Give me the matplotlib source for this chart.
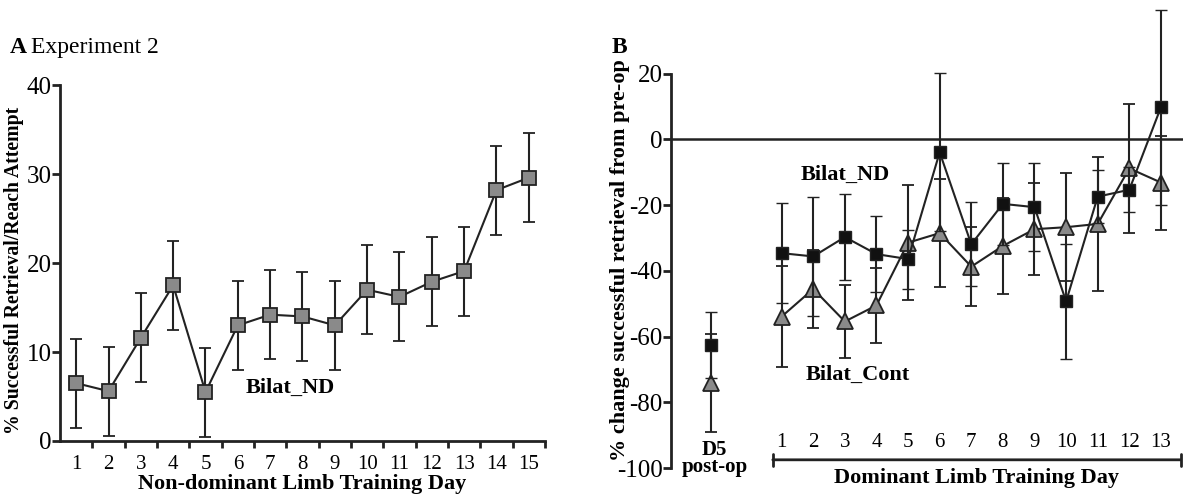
import matplotlib
matplotlib.use("Agg")
import matplotlib.pyplot as plt
from matplotlib.ticker import FixedLocator

plt.rcParams['font.family'] = ['Liberation Serif', 'DejaVu Serif']

# ---------------- Data ----------------
# Panel A: Experiment 2, non-dominant limb training
days_a = list(range(1, 16))
bilat_nd_a = [6.5, 5.6, 11.6, 17.5, 5.5, 13.0, 14.2, 14.0, 13.0, 17.0, 16.2, 17.9, 19.1, 28.2, 29.6]
err_a = [5.0, 5.0, 5.0, 5.0, 5.0, 5.0, 5.0, 5.0, 5.0, 5.0, 5.0, 5.0, 5.0, 5.0, 5.0]

# Panel B: % change from pre-op, dominant limb training
days_b = list(range(1, 14))
bilat_nd_b = [-34.6, -35.6, -29.7, -34.9, -36.4, -3.9, -31.9, -19.6, -20.6, -49.3, -17.4, -15.3, 9.8]
bilat_nd_b_err = [15.2, 18.2, 13.1, 11.6, 9.0, 24.0, 12.8, 12.4, 13.4, 17.4, 8.0, 6.8, 29.7]
bilat_cont_b = [-53.9, -45.5, -55.4, -50.5, -31.4, -28.5, -38.7, -32.4, -27.3, -26.7, -25.7, -8.8, -13.1]
bilat_cont_b_err = [15.3, 12.0, 11.0, 11.3, 17.5, 16.5, 12.1, 14.6, 14.0, 16.4, 20.3, 19.6, 14.3]

# D5 post-op point
d5_label = "D5\npost-op"
d5_nd, d5_nd_err = -62.5, 10.0
d5_cont, d5_cont_err = -74.1, 15.0

line_c = '#222222'

fig = plt.figure(figsize=(11.86, 4.98), dpi=100)

# ---------------- Panel A ----------------
axA = fig.add_axes([0.0506, 0.1145, 0.4089, 0.7145])
axA.errorbar(days_a, bilat_nd_a, yerr=err_a, color=line_c, lw=1.5, elinewidth=1.5,
             capsize=4.5, capthick=1.5, marker='s', markersize=10,
             markerfacecolor='#8a8a8a', markeredgecolor=line_c, markeredgewidth=1.3, zorder=3)
axA.set_xlim(0.5, 15.5)
axA.set_ylim(0, 40)
for s in ['top', 'right']:
    axA.spines[s].set_visible(False)
for s in ['left', 'bottom']:
    axA.spines[s].set_linewidth(2)
    axA.spines[s].set_color(line_c)
axA.set_yticks([0, 10, 20, 30, 40])
axA.set_xticks(days_a)
axA.xaxis.set_minor_locator(FixedLocator([d + 0.5 for d in days_a]))
axA.tick_params(axis='x', which='major', length=0, labelsize=15, pad=10)
axA.tick_params(axis='x', which='minor', length=5, width=2, direction='out', color=line_c)
axA.tick_params(axis='y', length=6, width=2, labelsize=18, pad=0, color=line_c)
axA.set_xlabel("Non-dominant Limb Training Day", fontsize=16, fontweight='bold', labelpad=0)
axA.set_ylabel("% Successful Retrieval/Reach Attempt", fontsize=14.2, fontweight='bold')
axA.yaxis.set_label_coords(-0.074, 0.48)
axA.text(7.62, 6.0, "Bilat_ND", fontsize=16, fontweight='bold', ha='center', va='center')
fig.text(0.008, 0.905, "A", fontsize=17, fontweight='bold', ha='left', va='center')
fig.text(0.026, 0.905, "Experiment 2", fontsize=17, ha='left', va='center')

# ---------------- Panel B ----------------
axB = fig.add_axes([0.5658, 0.0602, 0.4317, 0.9368])
axB.set_xlim(-2.5, 13.7)
axB.set_ylim(-100, 42)
axB.axhline(0, color=line_c, lw=1.8, zorder=1)
axB.errorbar(days_b, bilat_cont_b, yerr=bilat_cont_b_err, color=line_c, lw=1.5,
             elinewidth=1.5, capsize=4.5, capthick=1.5, marker='^', markersize=11,
             markerfacecolor='#8a8a8a', markeredgecolor=line_c, markeredgewidth=1.3, zorder=3)
axB.errorbar(days_b, bilat_nd_b, yerr=bilat_nd_b_err, color=line_c, lw=1.5,
             elinewidth=1.5, capsize=4.5, capthick=1.5, marker='s', markersize=9,
             markerfacecolor='#111111', markeredgecolor=line_c, markeredgewidth=1.0, zorder=4)
# D5 post-op values
axB.errorbar([-1.25], [d5_cont], yerr=[d5_cont_err], color=line_c, elinewidth=1.5,
             capsize=4.5, capthick=1.5, marker='^', markersize=11, markerfacecolor='#8a8a8a',
             markeredgecolor=line_c, markeredgewidth=1.3, zorder=3)
axB.errorbar([-1.25], [d5_nd], yerr=[d5_nd_err], color=line_c, elinewidth=1.5,
             capsize=4.5, capthick=1.5, marker='s', markersize=9, markerfacecolor='#111111',
             markeredgecolor=line_c, markeredgewidth=1.0, zorder=4)

for s in ['top', 'right', 'bottom']:
    axB.spines[s].set_visible(False)
axB.spines['left'].set_linewidth(2)
axB.spines['left'].set_color(line_c)
axB.spines['left'].set_bounds(-100, 20)
axB.set_yticks([-100, -80, -60, -40, -20, 0, 20])
axB.set_yticklabels(['-100', '-80', '-60', '-40', '-20', '0', '20'])
axB.tick_params(axis='y', length=6, width=2, labelsize=18, pad=0, color=line_c)
axB.set_xticks([])

# bracketed x axis with labels above the line
axB.annotate('', xy=(13.62, -97.5), xytext=(0.72, -97.5),
             arrowprops=dict(arrowstyle='|-|, widthA=0.45, widthB=0.45', color=line_c, lw=2,
                             shrinkA=0, shrinkB=0))
for d in days_b:
    axB.text(d, -92.3, str(d), fontsize=15, ha='center', va='center')
axB.text(-1.12, -97.0, d5_label, fontsize=15, fontweight='bold', ha='center', va='center',
         linespacing=0.8)
axB.text((0.72 + 13.62) / 2, -103, "Dominant Limb Training Day", fontsize=16,
         fontweight='bold', ha='center', va='center', clip_on=False)
axB.set_ylabel("% change successful retrieval from pre-op", fontsize=16, fontweight='bold')
axB.yaxis.set_label_coords(-0.08, 0.446)
axB.text(3.0, -10.8, "Bilat_ND", fontsize=16, fontweight='bold', ha='center', va='center')
axB.text(3.4, -71.6, "Bilat_Cont", fontsize=16, fontweight='bold', ha='center', va='center')
fig.text(0.516, 0.905, "B", fontsize=17, fontweight='bold', ha='left', va='center')

fig.savefig("out.png", dpi=100)
